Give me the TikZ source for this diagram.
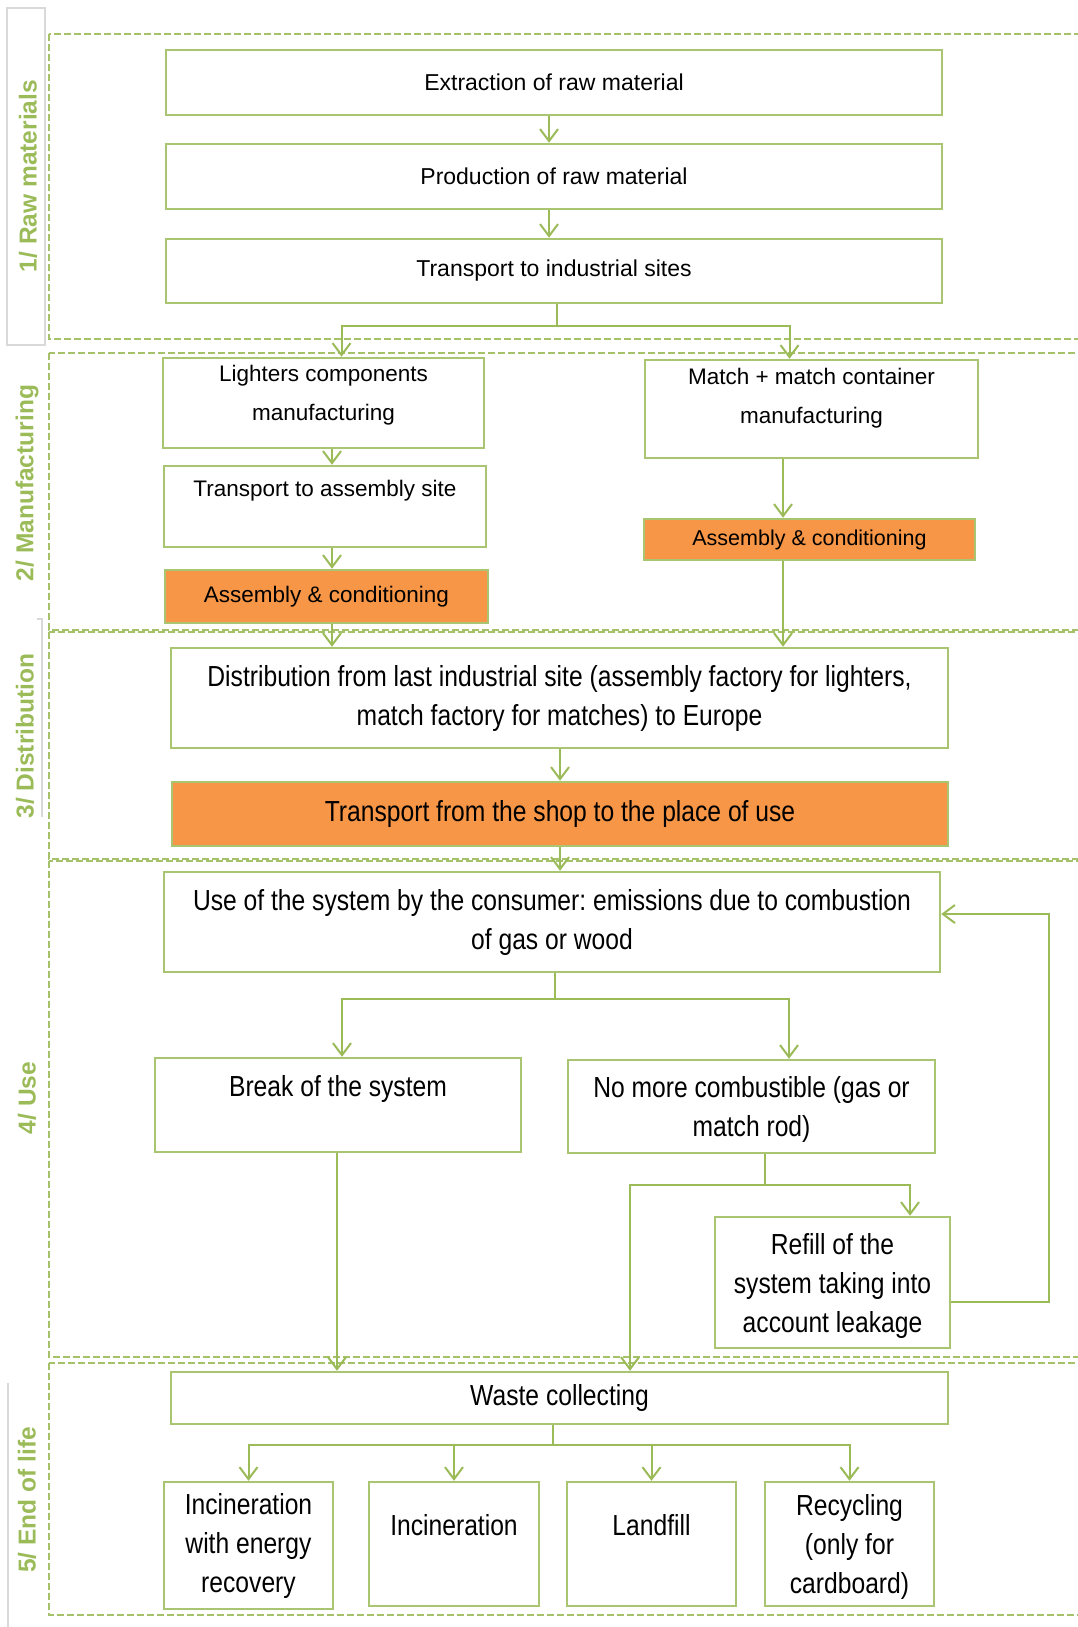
\documentclass[tikz,border=0pt]{standalone}
\usepackage{xcolor}
\usepackage{fontspec}
\setmainfont{Liberation Sans}
\newfontfamily\narrowsans[FakeStretch=0.85]{Liberation Sans}
\usepackage{tikz}
\usetikzlibrary{calc}
\usetikzlibrary{arrows.meta}
\definecolor{pbbbzp}{rgb}{0.608,0.733,0.349}
\definecolor{fiputu}{rgb}{0.969,0.588,0.275}
\definecolor{dpdpdp}{rgb}{0.85,0.85,0.85}
\tikzstyle{every node}=[font=\fontsize{23}{39}\selectfont]
\frenchspacing

\begin{document}
\begin{tikzpicture}[line join=miter,>={Straight Barb[length=12pt,width=18pt]},x=1pt,y=-1pt,
  box/.style={draw=pbbbzp!85,line width=2.5pt,fill=white,align=center,inner sep=0pt},
  hot/.style={box,fill=fiputu},
  small/.style={font=\fontsize{22.5}{39}\selectfont},
  tall/.style={font=\narrowsans\fontsize{29}{39}\selectfont},
  link/.style={draw=pbbbzp,line width=2pt},
  frame/.style={draw=pbbbzp!90,line width=2pt,dash pattern=on 7pt off 3pt},
  phase/.style={rotate=90,text=pbbbzp,font=\fontsize{24.5}{28}\selectfont\bfseries},
  liftup/.style={text depth=#1}]
\useasboundingbox (0,0) rectangle (1078,1627);
\clip (0,0) rectangle (1078,1627);
% side panels
\draw [dpdpdp,line width=1.5pt] (7,8) rectangle (45,345);
\draw [dpdpdp,line width=1.5pt] (37,619) -- (42,619) -- (42,817);
\draw [dpdpdp,line width=1.5pt] (8,1383) -- (8,1627);
% phase frames
\draw [frame] (49,34) rectangle (1100,339);
\draw [frame] (49,353) rectangle (1100,630);
\draw [frame] (49,632) rectangle (1100,859);
\draw [frame] (49,861) rectangle (1100,1357);
\draw [frame] (49,1363) rectangle (1100,1615);
\node [phase] (ph1) at (28,176) {1/ Raw materials};
\node [phase] (ph2) at (27,483) {2/ Manufacturing};
\node [phase] (ph3) at (25,736) {3/ Distribution};
\node [phase] (ph4) at (27,1098) {4/ Use};
\node [phase] (ph5) at (27,1500) {5/ End of life};
% raw materials
\node [box,minimum width=776,minimum height=65] (extr) at (554,82.5) {Extraction of raw material};
\node [box,minimum width=776,minimum height=65] (prod) at (554,176.5) {Production of raw material};
\node [box,minimum width=776,minimum height=64] (trind) at (554,271) {Transport to industrial sites};
% manufacturing
\node [box,small,minimum width=321,minimum height=90,liftup=20] (lighters) at (323.5,403) {Lighters components\\manufacturing};
\node [box,small,minimum width=322,minimum height=81,liftup=36] (trasm) at (325,506.5) {Transport to assembly site};
\node [hot,small,minimum width=323,minimum height=53] (asmL) at (326.5,596.5) {Assembly \& conditioning};
\node [box,small,minimum width=333,minimum height=98,liftup=26] (match) at (811.5,409) {Match + match container\\manufacturing};
\node [hot,font=\fontsize{21.5}{39}\selectfont,minimum width=331,minimum height=41] (asmR) at (809.5,539.5) {Assembly \& conditioning};
% distribution
\node [box,tall,minimum width=777,minimum height=100] (distrib) at (559.5,698) {Distribution from last industrial site (assembly factory for lighters,\\match factory for matches) to Europe};
\node [hot,tall,minimum width=776,minimum height=64] (trshop) at (560,814) {Transport from the shop to the place of use};
% use
\node [box,tall,minimum width=776,minimum height=100] (use) at (552,922) {Use of the system by the consumer: emissions due to combustion\\of gas or wood};
\node [box,tall,minimum width=366,minimum height=94,liftup=38] (brk) at (338,1105) {Break of the system};
\node [box,tall,minimum width=367,minimum height=93,liftup=-4] (nomore) at (751.5,1106.5) {No more combustible (gas or\\match rod)};
\node [box,tall,minimum width=235,minimum height=131,liftup=-2] (refill) at (832.5,1282.5) {Refill of the\\system taking into\\account leakage};
% end of life
\node [box,tall,minimum width=777,minimum height=52] (waste) at (559.5,1398) {Waste collecting};
\node [box,tall,minimum width=169,minimum height=127] (incen) at (248.5,1545.5) {Incineration\\with energy\\recovery};
\node [box,tall,minimum width=170,minimum height=124,liftup=38] (incin) at (454,1544) {Incineration};
\node [box,tall,minimum width=169,minimum height=124,liftup=38] (landf) at (651.5,1544) {Landfill};
\node [box,tall,minimum width=169,minimum height=124,liftup=-8] (recyc) at (849.5,1544) {Recycling\\(only for\\cardboard)};
% columns
\coordinate (colM) at (549,0);
\coordinate (colL) at (332,0);
\coordinate (colR) at (783,0);
\coordinate (colD) at (560,0);
% connectors
\draw [link,->] (extr.south -| colM) -- (prod.north -| colM);
\draw [link,->] (prod.south -| colM) -- (trind.north -| colM);
\draw [link] ($(trind.south)+(3,0)$) -- ++(0,22) coordinate (fork1);
\draw [link,->] (fork1) -| ($(lighters.north)+(18,0)$);
\draw [link,->] (fork1) -| ($(match.north)+(-22,0)$);
\draw [link,->] (lighters.south -| colL) -- (trasm.north -| colL);
\draw [link,->] (trasm.south -| colL) -- (asmL.north -| colL);
\draw [link,->] (asmL.south -| colL) -- (distrib.north -| colL);
\draw [link,->] (match.south -| colR) -- (asmR.north -| colR);
\draw [link,->] (asmR.south -| colR) -- (distrib.north -| colR);
\draw [link,->] (distrib.south -| colD) -- (trshop.north -| colD);
\draw [link,->] (trshop.south -| colD) -- (use.north -| colD);
\draw [link] ($(use.south)+(3,0)$) -- ++(0,26) coordinate (fork2);
\draw [link,->] (fork2) -| ($(brk.north)+(4,0)$);
\draw [link,->] (fork2) -| ($(nomore.north)+(37.5,0)$);
\draw [link] ($(nomore.south)+(13.5,0)$) -- ++(0,31) coordinate (fork3);
\draw [link,->] (fork3) -| ($(refill.north)+(77.5,0)$);
\draw [link,->] (fork3) -| ($(waste.north)+(70.5,0)$);
\draw [link,->] ($(brk.south)+(-1,0)$) -- ($(brk.south |- waste.north)+(-1,0)$);
\draw [link,->] ($(refill.east)+(0,19.5)$) -- ++(98,0) |- ($(use.east)+(0,-8)$);
\draw [link] ($(waste.south)+(-6.5,0)$) -- ++(0,20) coordinate (fork4);
\draw [link,->] (fork4) -| (incen.north);
\draw [link,->] (fork4) -| (incin.north);
\draw [link,->] (fork4) -| (landf.north);
\draw [link,->] (fork4) -| (recyc.north);
\end{tikzpicture}
\end{document}
